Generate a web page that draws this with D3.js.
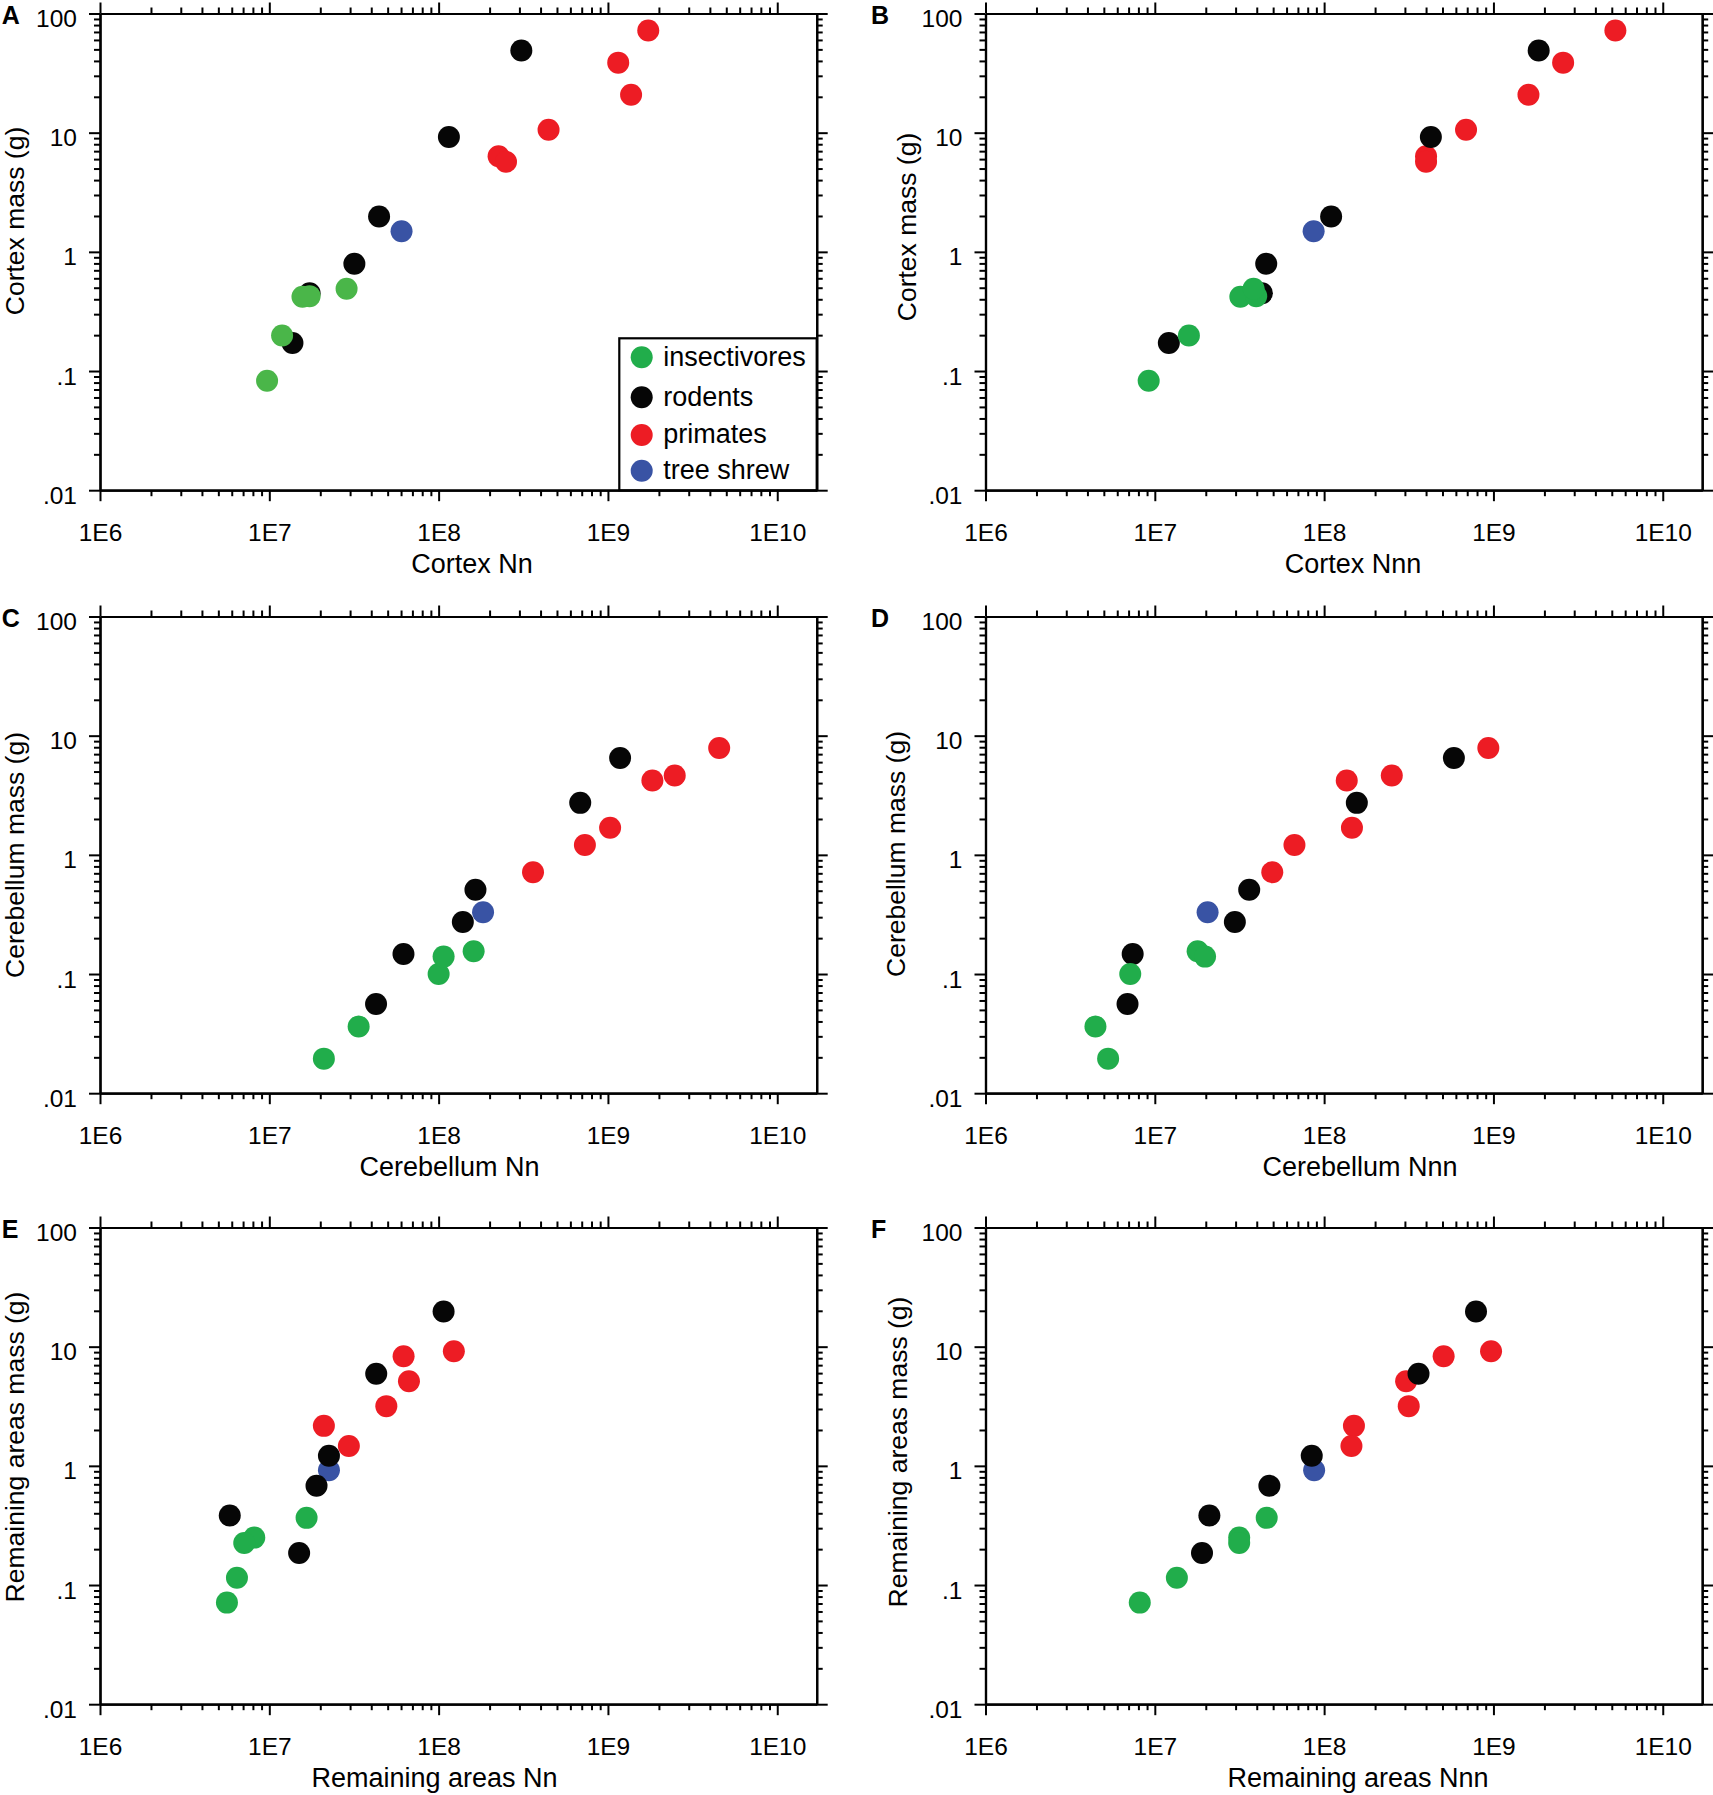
<!DOCTYPE html>
<html>
<head>
<meta charset="utf-8">
<script src="https://cdn.jsdelivr.net/npm/d3@7"></script>
<style>
  body { margin: 0; background: #fff; }
  svg text { font-family: "Liberation Sans", Arial, Helvetica, sans-serif; fill: #000; }
  .axis .domain { stroke: #000; stroke-width: 2.2; }
  .axis .tick line { stroke: #000; stroke-width: 2; }
</style>
</head>
<body>
<svg id="fig" width="1713" height="1795"></svg>
<script>
// groups of species, in legend order
var groups = ["insectivores", "rodents", "primates", "tree shrew"];
var groupColors = ["#21ad4b", "#060606", "#ed1c24", "#3953a4"];

// axis ticks
var xTickValues = [1e6, 1e7, 1e8, 1e9, 1e10];
var xTickLabels = ["1E6", "1E7", "1E8", "1E9", "1E10"];
var yTickValues = [0.01, 0.1, 1, 10, 100];
var yTickLabels = [".01", ".1", "1", "10", "100"];
var xDomain = [1e6, 1.71e10];
var yDomain = [0.01, 100];

// cortex (array order = drawing order): group index, mass (g), neurons (Nn), non-neuronal cells (Nnn)
var cortexGroup = [2, 2, 2, 2, 2, 2, 3, 1, 1, 1, 1, 1, 1, 0, 0, 0, 0, 0];
var cortexMass = [6.33, 5.7, 10.6, 20.8, 38.7, 72, 1.49, 0.172, 0.45, 0.795, 1.98, 9.2, 49, 0.083, 0.199, 0.42, 0.425, 0.49];
var cortexNn = [2.26e8, 2.5e8, 4.46e8, 1.37e9, 1.15e9, 1.73e9, 6.04e7, 1.37e7, 1.73e7, 3.18e7, 4.45e7, 1.15e8, 3.08e8, 9.7e6, 1.19e7, 1.57e7, 1.73e7, 2.86e7];
var cortexNnn = [4.0e8, 4.0e8, 6.89e8, 1.61e9, 2.58e9, 5.25e9, 8.67e7, 1.21e7, 4.29e7, 4.55e7, 1.1e8, 4.27e8, 1.85e9, 9.2e6, 1.59e7, 3.2e7, 3.97e7, 3.83e7];

// cerebellum
var cerebGroup = [1, 1, 1, 1, 1, 1, 3, 2, 2, 2, 2, 2, 2, 0, 0, 0, 0, 0];
var cerebMass = [0.056, 0.147, 0.273, 0.51, 2.73, 6.5, 0.33, 0.715, 1.21, 1.69, 4.21, 4.63, 7.88, 0.0195, 0.0363, 0.100, 0.155, 0.140];
var cerebNn = [4.27e7, 6.2e7, 1.39e8, 1.65e8, 6.86e8, 1.18e9, 1.83e8, 3.61e8, 7.31e8, 1.03e9, 1.83e9, 2.48e9, 4.54e9, 2.1e7, 3.37e7, 1.0e8, 1.61e8, 1.07e8];
var cerebNnn = [6.9e6, 7.4e6, 2.97e7, 3.61e7, 1.56e8, 5.84e8, 2.05e7, 4.94e7, 6.68e7, 1.46e8, 1.36e8, 2.51e8, 9.33e8, 5.3e6, 4.46e6, 7.16e6, 1.79e7, 1.98e7];

// remaining areas
var remGroup = [3, 2, 2, 2, 2, 2, 2, 1, 1, 1, 1, 1, 1, 0, 0, 0, 0, 0];
var remMass = [0.917, 2.165, 1.465, 3.17, 5.12, 8.31, 9.15, 0.186, 0.383, 0.682, 1.215, 5.92, 19.7, 0.0712, 0.1153, 0.25, 0.225, 0.366];
var remNn = [2.25e7, 2.1e7, 2.95e7, 4.91e7, 6.68e7, 6.21e7, 1.23e8, 1.5e7, 5.84e6, 1.9e7, 2.25e7, 4.28e7, 1.07e8, 5.62e6, 6.44e6, 8.15e6, 7.11e6, 1.66e7];
var remNnn = [8.73e7, 1.5e8, 1.45e8, 3.16e8, 3.05e8, 5.08e8, 9.68e8, 1.9e7, 2.1e7, 4.75e7, 8.45e7, 3.61e8, 7.89e8, 8.15e6, 1.35e7, 3.15e7, 3.15e7, 4.58e7];

var panels = [
  {letter: "A", xs: cortexNn,  ys: cortexMass, grp: cortexGroup, xTitle: "Cortex Nn",           yTitle: "Cortex mass (g)", legend: true, green: "#4ab649"},
  {letter: "B", xs: cortexNnn, ys: cortexMass, grp: cortexGroup, xTitle: "Cortex Nnn",          yTitle: "Cortex mass (g)"},
  {letter: "C", xs: cerebNn,   ys: cerebMass,  grp: cerebGroup,  xTitle: "Cerebellum Nn",       yTitle: "Cerebellum mass (g)"},
  {letter: "D", xs: cerebNnn,  ys: cerebMass,  grp: cerebGroup,  xTitle: "Cerebellum Nnn",      yTitle: "Cerebellum mass (g)"},
  {letter: "E", xs: remNn,     ys: remMass,    grp: remGroup,    xTitle: "Remaining areas Nn",  yTitle: "Remaining areas mass (g)"},
  {letter: "F", xs: remNnn,    ys: remMass,    grp: remGroup,    xTitle: "Remaining areas Nnn", yTitle: "Remaining areas mass (g)"}
];

// layout (pixels)
var W = 716.7, H = 476.7;
var colX = [100, 985.5];
var rowY = [13.5, 616.5, 1227.5];
var letterX = [-98.3, -114.5];
var xTitleX = [372, 367.5, 349.5, 374.5, 334.5, 372.5];   // centre, relative to plot left
var yTitleX = [-76, -69.5, -76, -80.5, -76, -78.5];       // baseline, relative to plot left
var yTitleY = [207.5, 213.5, 238.5, 237.5, 219.5, 224.5]; // centre, relative to plot top
var legendRows = [343.8, 383.8, 421.5, 457.2];

var svg = d3.select("#fig");

function minorTicks(domain) {
  var out = [];
  var e0 = Math.floor(Math.log10(domain[0])), e1 = Math.ceil(Math.log10(domain[1]));
  for (var e = e0; e <= e1; e++) {
    for (var m = 2; m <= 9; m++) {
      var v = m * Math.pow(10, e);
      if (v > domain[0] && v < domain[1]) out.push(v);
    }
  }
  return out;
}

var xMinor = minorTicks(xDomain);
var yMinor = minorTicks(yDomain);

panels.forEach(function(p, i) {
  var col = i % 2, row = Math.floor(i / 2);
  var x0 = colX[col], y0 = rowY[row];

  var xScale = d3.scaleLog().domain(xDomain).range([0, W]);
  var yScale = d3.scaleLog().domain(yDomain).range([H, 0]);

  var g = svg.append("g").attr("transform", "translate(" + x0 + "," + y0 + ")");

  // minor ticks, all four sides
  g.append("g").attr("class", "axis").attr("transform", "translate(0," + H + ")")
   .call(d3.axisBottom(xScale).tickValues(xMinor).tickSize(6).tickSizeOuter(0).tickFormat(""));
  g.append("g").attr("class", "axis")
   .call(d3.axisTop(xScale).tickValues(xMinor).tickSize(6).tickSizeOuter(0).tickFormat(""));
  g.append("g").attr("class", "axis")
   .call(d3.axisLeft(yScale).tickValues(yMinor).tickSize(6).tickSizeOuter(0).tickFormat(""));
  g.append("g").attr("class", "axis").attr("transform", "translate(" + W + ",0)")
   .call(d3.axisRight(yScale).tickValues(yMinor).tickSize(6).tickSizeOuter(0).tickFormat(""));

  // major ticks
  var bottom = g.append("g").attr("class", "axis").attr("transform", "translate(0," + H + ")")
   .call(d3.axisBottom(xScale).tickValues(xTickValues).tickSize(11).tickSizeOuter(0)
         .tickFormat(function(d, k) { return xTickLabels[k]; }));
  bottom.selectAll("text").attr("y", 51).attr("dy", null)
        .style("font-size", "24.5px");

  g.append("g").attr("class", "axis")
   .call(d3.axisTop(xScale).tickValues(xTickValues).tickSize(11).tickSizeOuter(0).tickFormat(""));

  var left = g.append("g").attr("class", "axis")
   .call(d3.axisLeft(yScale).tickValues(yTickValues).tickSize(11).tickSizeOuter(0)
         .tickFormat(function(d, k) { return yTickLabels[k]; }));
  left.selectAll("text").attr("x", -23).attr("y", 13).attr("dy", null)
      .style("font-size", "24.5px");

  g.append("g").attr("class", "axis").attr("transform", "translate(" + W + ",0)")
   .call(d3.axisRight(yScale).tickValues(yTickValues).tickSize(11).tickSizeOuter(0).tickFormat(""));

  g.selectAll(".axis").attr("font-family", null).attr("font-size", null);

  // points
  g.append("g").selectAll("circle")
   .data(d3.range(p.xs.length))
   .join("circle")
   .attr("cx", function(k) { return xScale(p.xs[k]); })
   .attr("cy", function(k) { return yScale(p.ys[k]); })
   .attr("r", 11)
   .attr("fill", function(k) {
     return (p.grp[k] === 0 && p.green) ? p.green : groupColors[p.grp[k]];
   });

  // titles
  g.append("text")
   .attr("x", xTitleX[i]).attr("y", H + 83)
   .attr("text-anchor", "middle")
   .style("font-size", "27px")
   .text(p.xTitle);

  g.append("text")
   .attr("transform", "translate(" + yTitleX[i] + "," + yTitleY[i] + ") rotate(-90)")
   .attr("text-anchor", "middle")
   .style("font-size", "26.5px")
   .text(p.yTitle);

  g.append("text")
   .attr("x", letterX[col]).attr("y", 10.5)
   .style("font-size", "25px").style("font-weight", "bold")
   .text(p.letter);

  // legend
  if (p.legend) {
    var lg = g.append("g");
    lg.append("rect")
      .attr("x", W - 197.4).attr("y", H - 151.9)
      .attr("width", 197.4).attr("height", 151.9)
      .attr("fill", "#fff").attr("stroke", "#000").attr("stroke-width", 2.2);
    var items = lg.selectAll("g.item").data(groups).join("g").attr("class", "item")
      .attr("transform", function(d, k) { return "translate(0," + legendRows[k] + ")"; });
    items.append("circle")
      .attr("cx", 541.7).attr("cy", 0).attr("r", 11)
      .attr("fill", function(d, k) { return groupColors[k]; });
    items.append("text")
      .attr("x", 563.3).attr("y", 8.4)
      .style("font-size", "27px")
      .text(function(d) { return d; });
  }
});
</script>
</body>
</html>
